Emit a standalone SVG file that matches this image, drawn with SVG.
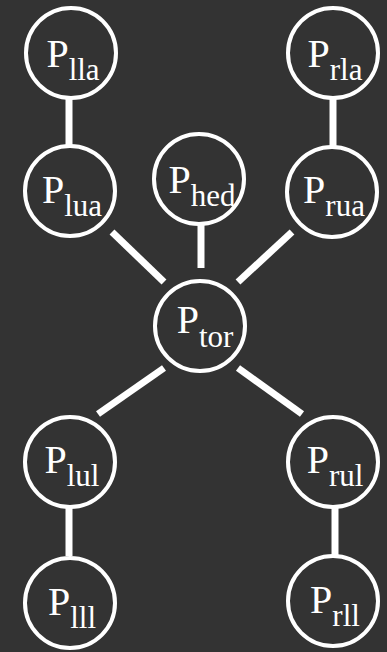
<svg xmlns="http://www.w3.org/2000/svg" width="387" height="652" viewBox="0 0 387 652">
<style>
.n{fill:none;stroke:#fff;stroke-width:4}
text{font-family:'Liberation Serif','Times New Roman',serif;fill:#fff;font-size:40px;text-anchor:middle}
.s{font-size:31px}
#edges line{stroke:#fff;stroke-width:7}
</style>
<rect width="387" height="652" fill="#333"/>
<g id="edges">
<line x1="69" y1="98" x2="69" y2="148"/>
<line x1="333" y1="98" x2="333" y2="148"/>
<line x1="201" y1="224" x2="201" y2="268"/>
<line x1="112" y1="232" x2="164" y2="282"/>
<line x1="292" y1="232" x2="238" y2="282"/>
<line x1="164" y1="368" x2="98" y2="414"/>
<line x1="238" y1="368" x2="302" y2="414"/>
<line x1="69" y1="508" x2="69" y2="556"/>
<line x1="335" y1="508" x2="335" y2="556"/>
</g>
<g id="lla"><circle class="n" cx="71" cy="53" r="45"/><text x="73" y="67">P<tspan class="s" dy="13">lla</tspan></text></g>
<g id="rla"><circle class="n" cx="333" cy="53" r="45"/><text x="335" y="67">P<tspan class="s" dy="13">rla</tspan></text></g>
<g id="lua"><circle class="n" cx="70" cy="191" r="45"/><text x="72" y="203">P<tspan class="s" dy="13">lua</tspan></text></g>
<g id="hed"><circle class="n" cx="199" cy="179" r="45"/><text x="202" y="193">P<tspan class="s" dy="13">hed</tspan></text></g>
<g id="rua"><circle class="n" cx="332" cy="192" r="45"/><text x="334" y="203">P<tspan class="s" dy="13">rua</tspan></text></g>
<g id="tor"><circle class="n" cx="200" cy="326" r="45"/><text x="205" y="333">P<tspan class="s" dy="14">tor</tspan></text></g>
<g id="lul"><circle class="n" cx="70" cy="462" r="45"/><text x="72" y="473">P<tspan class="s" dy="13">lul</tspan></text></g>
<g id="rul"><circle class="n" cx="333" cy="462" r="45"/><text x="335" y="473">P<tspan class="s" dy="13">rul</tspan></text></g>
<g id="lll"><circle class="n" cx="70" cy="603" r="45"/><text x="72" y="615">P<tspan class="s" dy="13">lll</tspan></text></g>
<g id="rll"><circle class="n" cx="333" cy="601" r="45"/><text x="335" y="613">P<tspan class="s" dy="13">rll</tspan></text></g>
</svg>
